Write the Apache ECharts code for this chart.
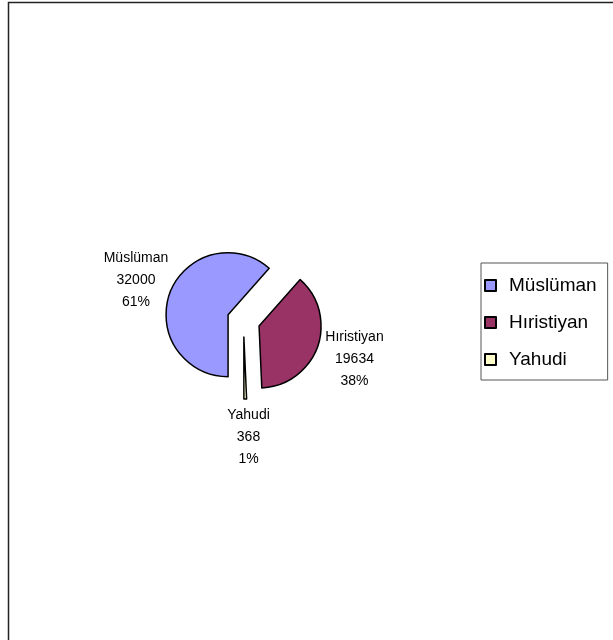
<!DOCTYPE html>
<html>
<head>
<meta charset="utf-8">
<script src="https://cdn.jsdelivr.net/npm/echarts@6/dist/echarts.min.js"></script>
<style>
  html, body { margin: 0; padding: 0; background: #fff; }
  #chart { width: 613px; height: 640px; }
</style>
</head>
<body>
<div id="chart"></div>
<script>
// veriler
var dinler = ['Müslüman', 'Hıristiyan', 'Yahudi'];
var sayilar = [32000, 19634, 368];
var renkler = ['#9999FF', '#993366', '#FFFFCC'];

var merkez = [243.5, 320.5];
// etiket konumları (pasta merkezine göre)
var etiketKaydir = [[-107.5, -40], [111, 38.5], [5, 117]];

var ortak = {
  type: 'pie',
  center: merkez,
  radius: 62,
  startAngle: -90,
  clockwise: true,
  percentPrecision: 0,
  emphasis: { disabled: true }
};

var chart = echarts.init(document.getElementById('chart'));
chart.setOption({
  animation: false,
  textStyle: { fontFamily: 'Liberation Sans, Arial, sans-serif' },
  graphic: [{
    type: 'rect',
    shape: { x: 8.5, y: 2.5, width: 700, height: 700 },
    style: { fill: 'none', stroke: '#222', lineWidth: 1.5 },
    silent: true
  }],
  legend: {
    orient: 'vertical',
    left: 481,
    top: 263,
    data: dinler,
    icon: 'rect',
    itemWidth: 11,
    itemHeight: 11,
    itemGap: 18,
    padding: [13, 11, 11, 3],
    borderColor: '#555',
    borderWidth: 1,
    selectedMode: false,
    textStyle: { fontSize: 19, color: '#000', padding: [0, 0, 0, 8] }
  },
  series: [
    // ayrık dilimler
    Object.assign({}, ortak, {
      selectedMode: 'multiple',
      selectedOffset: 16.5,
      itemStyle: { borderColor: '#000', borderWidth: 1.5 },
      label: { show: false },
      labelLine: { show: false },
      data: dinler.map(function (d, i) {
        return { name: d, value: sayilar[i], selected: true, itemStyle: { color: renkler[i] } };
      })
    }),
    // sadece etiketler
    Object.assign({}, ortak, {
      silent: true,
      itemStyle: { color: 'transparent', borderWidth: 0 },
      label: {
        show: true,
        formatter: '{b}\n{c}\n{d}%',
        fontSize: 14,
        lineHeight: 22,
        color: '#000'
      },
      labelLine: { show: false },
      labelLayout: function (p) {
        var k = etiketKaydir[p.dataIndex];
        return {
          x: merkez[0] + k[0],
          y: merkez[1] + k[1],
          align: 'center',
          verticalAlign: 'middle'
        };
      },
      data: dinler.map(function (d, i) {
        return { name: d, value: sayilar[i] };
      })
    })
  ]
});
</script>
</body>
</html>
